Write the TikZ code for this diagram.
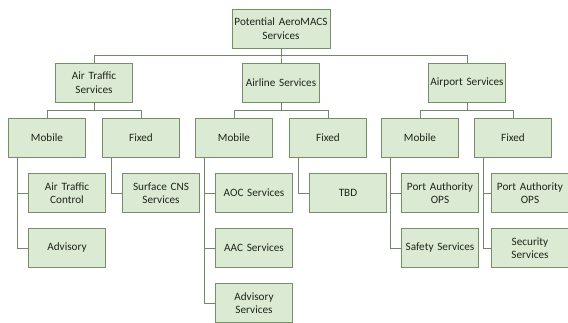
\documentclass[tikz,border=0pt]{standalone}
\usepackage{fontspec}
\setmainfont{Carlito}
\usepackage{xcolor}
\usepackage{tikz}
\usetikzlibrary{positioning, calc}

\definecolor{boxfill}{RGB}{219,234,211}
\definecolor{boxline}{RGB}{118,142,106}
\definecolor{linkline}{RGB}{115,135,105}
\definecolor{boxtext}{RGB}{30,38,26}

\begin{document}
\begin{tikzpicture}[
    x=1pt, y=-1pt,
    box/.style={rectangle, draw=boxline, fill=boxfill, line width=0.8pt, minimum width=77pt, minimum height=39pt, text width=76pt, inner sep=0.5pt, align=center, text=boxtext, font=\fontsize{11.2}{13.4}\selectfont},
    rootbox/.style={box, minimum width=98pt, text width=96pt},
    link/.style={draw=linkline, line width=0.8pt}
]
    \useasboundingbox (0,0) rectangle (568,323);

    % Root
    \node[rootbox] (root) at (281,28.5) {Potential AeroMACS\\Services};

    % Service groups
    \node[box] (ats) at (94,82.5) {Air Traffic\\Services};
    \node[box] (als) at (281,82.5) {Airline Services};
    \node[box] (aps) at (467,82.5) {Airport Services};

    % Mobile / fixed
    \node[box] (atsmob) at (47,138) {Mobile};
    \node[box] (atsfix) at (141,138) {Fixed};
    \node[box] (alsmob) at (234,138) {Mobile};
    \node[box] (alsfix) at (328,138) {Fixed};
    \node[box] (apsmob) at (420,138) {Mobile};
    \node[box] (apsfix) at (513,138) {Fixed};

    % Leaves
    \node[box] (atc) at (67,193) {Air Traffic\\Control};
    \node[box] (adv) at (67,248) {Advisory};
    \node[box] (cns) at (161,193) {Surface CNS\\Services};
    \node[box] (aoc) at (254,193) {AOC Services};
    \node[box] (aac) at (254,248) {AAC Services};
    \node[box] (advs) at (254,303) {Advisory\\Services};
    \node[box] (tbd) at (348,193) {TBD};
    \node[box] (paomob) at (440,193) {Port Authority\\OPS};
    \node[box] (safe) at (440,248) {Safety Services};
    \node[box] (paofix) at (530,193) {Port Authority\\OPS};
    \node[box] (sec) at (530,248) {Security\\Services};

    % Links from root
    \draw[link] (root.south) -- ++(0,7) -| (ats.north);
    \draw[link] (root.south) -- ++(0,7) -| (als.north);
    \draw[link] (root.south) -- ++(0,7) -| (aps.north);

    % Links to mobile / fixed
    \draw[link] (ats.south) -- ++(0,8.5) -| (atsmob.north);
    \draw[link] (ats.south) -- ++(0,8.5) -| (atsfix.north);
    \draw[link] (als.south) -- ++(0,8.5) -| (alsmob.north);
    \draw[link] (als.south) -- ++(0,8.5) -| (alsfix.north);
    \draw[link] (aps.south) -- ++(0,8.5) -| (apsmob.north);
    \draw[link] (aps.south) -- ++(0,8.5) -| (apsfix.north);

    % Links to leaves
    \draw[link] ([xshift=9pt]atsmob.south west) |- (atc.west);
    \draw[link] ([xshift=9pt]atsmob.south west) |- (adv.west);
    \draw[link] ([xshift=9pt]atsfix.south west) |- (cns.west);
    \draw[link] ([xshift=9pt]alsmob.south west) |- (aoc.west);
    \draw[link] ([xshift=9pt]alsmob.south west) |- (aac.west);
    \draw[link] ([xshift=9pt]alsmob.south west) |- (advs.west);
    \draw[link] ([xshift=9pt]alsfix.south west) |- (tbd.west);
    \draw[link] ([xshift=9pt]apsmob.south west) |- (paomob.west);
    \draw[link] ([xshift=9pt]apsmob.south west) |- (safe.west);
    \draw[link] ([xshift=9pt]apsfix.south west) |- (paofix.west);
    \draw[link] ([xshift=9pt]apsfix.south west) |- (sec.west);
\end{tikzpicture}
\end{document}
